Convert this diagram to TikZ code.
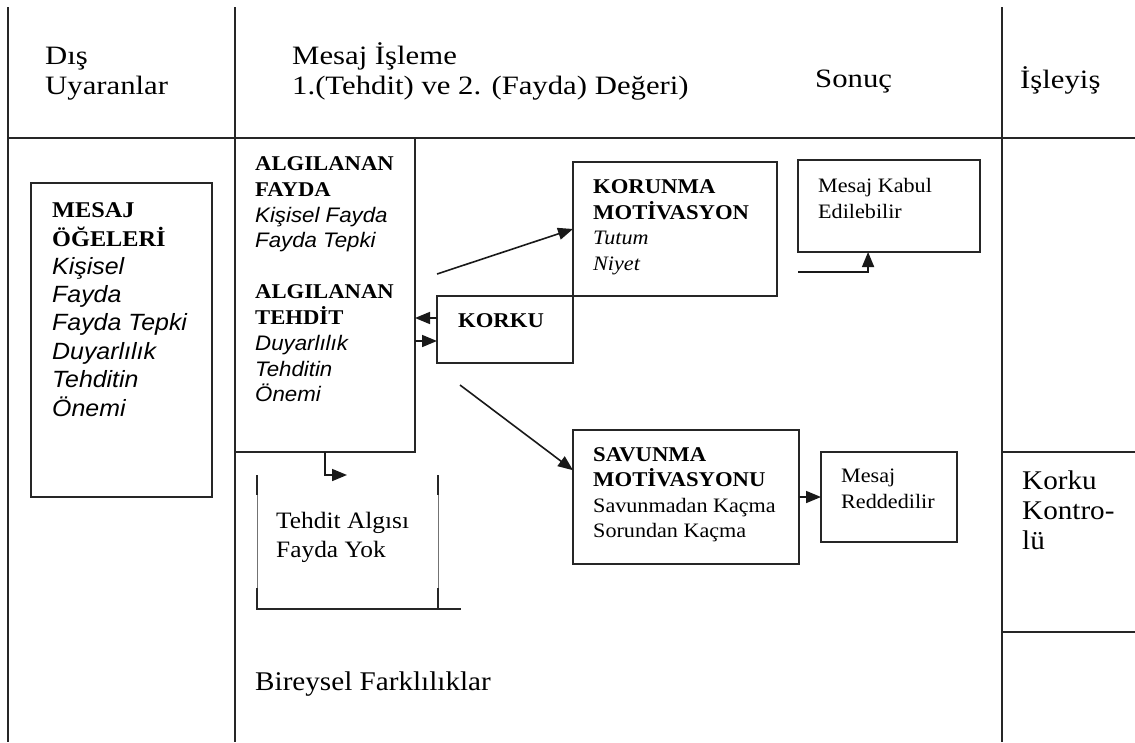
\documentclass[tikz,border=0pt]{standalone}
\usepackage{fontspec}
\setmainfont{Liberation Serif}
\newfontfamily\hdrf{Liberation Serif}[FakeStretch=1.16]
\newfontfamily\serf{Liberation Serif}[FakeStretch=1.08]
\newfontfamily\sanf{Liberation Sans}[FakeStretch=1.06]
\usetikzlibrary{arrows.meta,calc}
\tikzset{
  gridline/.style={line width=1.7pt, draw=black!85},
  thickrule/.style={line width=2.8pt, draw=black!85},
  box/.style={draw=black!85, line width=1.6pt, inner sep=0pt, outer sep=0pt, anchor=north west},
  arr/.style={draw=black!90, line width=1.6pt, -{Triangle[length=15pt,width=12pt]}},
  txt/.style={anchor=base west, inner sep=0pt, text=black},
  hdr/.style={txt, font=\hdrf\fontsize{26.5}{31}\selectfont},
  bfx/.style={txt, font=\serf\bfseries\fontsize{21}{25}\selectfont},
  mbf/.style={txt, font=\serf\bfseries\fontsize{22.5}{27}\selectfont},
  itx/.style={txt, font=\sanf\itshape\fontsize{21}{25}\selectfont},
  mit/.style={txt, font=\sanf\itshape\fontsize{23.5}{28}\selectfont},
  ser/.style={txt, font=\serf\fontsize{20.5}{25}\selectfont},
  seri/.style={txt, font=\serf\itshape\fontsize{20.5}{25}\selectfont},
  serb/.style={txt, font=\serf\fontsize{23.5}{28}\selectfont},
  bigtxt/.style={txt, font=\serf\fontsize{27}{30}\selectfont},
}
\begin{document}
\begin{tikzpicture}[x=1pt,y=-1pt]
\useasboundingbox[fill=white] (0,0) rectangle (1135,742);

% table grid
\draw[gridline] (8,7) -- (8,742);
\draw[gridline] (235,7) -- (235,742);
\draw[gridline] (1002,7) -- (1002,742);
\draw[thickrule] (8,138) -- (1135,138);
\draw[gridline] (1002,452) -- (1135,452);
\draw[gridline] (1002,632) -- (1135,632);

% header texts
\node[hdr] (h1) at (45,64) {Dış};
\node[hdr] (h2) at (45,94) {Uyaranlar};
\node[hdr] (h3) at (292,64) {Mesaj İşleme};
\node[hdr] (h4) at (292,94) {1.(Tehdit) ve 2. (Fayda) Değeri)};
\node[hdr] (h5) at (815,87) {Sonuç};
\node[hdr] (h6) at (1020,88) {İşleyiş};

% boxes
\node[box, minimum width=181pt, minimum height=314pt] (mesaj) at (31,183) {};
\node[box, minimum width=180pt, minimum height=314pt] (algilanan) at (235,138) {};
\node[box, minimum width=204pt, minimum height=134pt] (korunma) at (573,162) {};
\node[box, minimum width=136pt, minimum height=67pt] (korku) at (437,296) {};
\node[box, minimum width=182pt, minimum height=92pt] (kabul) at (798,160) {};
\node[box, minimum width=226pt, minimum height=134pt] (savunma) at (573,430) {};
\node[box, minimum width=136pt, minimum height=90pt] (red) at (821,452) {};

% open bracket box
\draw[line width=0.7pt, draw=black!55] (257,475) -- (257,609);
\draw[line width=0.7pt, draw=black!55] (438,475) -- (438,609);
\draw[line width=1.6pt, draw=black!85] (257,475) -- (257,495) (438,475) -- (438,495);
\draw[line width=1.6pt, draw=black!85] (257,588) -- (257,609) -- (461,609) (438,588) -- (438,609);

% texts in MESAJ box
\node[mbf] (m1) at (52,217) {MESAJ};
\node[mbf] (m2) at (52,246) {ÖĞELERİ};
\foreach \t [count=\i] in {Kişisel, Fayda, Fayda Tepki, Duyarlılık, Tehditin, Önemi}
  \node[mit] (mi\i) at (52,{274+(\i-1)*28.4}) {\t};

% texts in ALGILANAN box
\node[bfx] (a1) at (255,170) {ALGILANAN};
\node[bfx] (a2) at (255,196) {FAYDA};
\node[itx] (a3) at (255,222) {Kişisel Fayda};
\node[itx] (a4) at (255,247) {Fayda Tepki};
\node[bfx] (a5) at (255,298) {ALGILANAN};
\node[bfx] (a6) at (255,324) {TEHDİT};
\node[itx] (a7) at (255,350) {Duyarlılık};
\node[itx] (a8) at (255,376) {Tehditin};
\node[itx] (a9) at (255,401) {Önemi};

% KORUNMA
\node[bfx] (k1) at (593,193) {KORUNMA};
\node[bfx] (k2) at (593,219) {MOTİVASYON};
\node[seri] (k3) at (593,244) {Tutum};
\node[seri] (k4) at (593,270) {Niyet};

% KORKU
\node[bfx] (kk) at (458,327) {KORKU};

% Mesaj Kabul
\node[ser] (mk1) at (818,192) {Mesaj Kabul};
\node[ser] (mk2) at (818,218) {Edilebilir};

% SAVUNMA
\node[bfx] (s1) at (593,461) {SAVUNMA};
\node[bfx] (s2) at (593,486) {MOTİVASYONU};
\node[ser] (s3) at (593,512) {Savunmadan Kaçma};
\node[ser] (s4) at (593,537) {Sorundan Kaçma};

% Mesaj Reddedilir
\node[ser] (r1) at (841,482) {Mesaj};
\node[ser] (r2) at (841,508) {Reddedilir};

% bracket text
\node[serb] (t1) at (276,528) {Tehdit Algısı};
\node[serb] (t2) at (276,557) {Fayda Yok};

% bottom and right texts
\node[bigtxt] (bf) at (255,690) {Bireysel Farklılıklar};
\node[bigtxt] (kc1) at (1022,489) {Korku};
\node[bigtxt] (kc2) at (1022,519) {Kontro-};
\node[bigtxt] (kc3) at (1022,549) {lü};

% connectors
\coordinate (kst) at (437,274);
\draw[arr] (kst) -- (korunma.west);
\coordinate (sst) at (460,385);
\draw[arr] (sst) -- ($(savunma.north west)!0.3!(savunma.south west)$);
\coordinate (kl) at ([yshift=11.5pt]korku.west);
\coordinate (kr) at ([yshift=-11.5pt]korku.west);
\draw[arr] (kl) -- (kl -| algilanan.east);
\draw[arr] (kr -| algilanan.east) -- (kr);
\draw[arr] (savunma.east) -- (red.west);
\coordinate (kbs) at (798,272);
\draw[arr] (kbs) -| ($(kabul.south west)!0.385!(kabul.south east)$);
\coordinate (bt) at (347,475);
\draw[arr] (algilanan.south) |- (bt);
\end{tikzpicture}
\end{document}
